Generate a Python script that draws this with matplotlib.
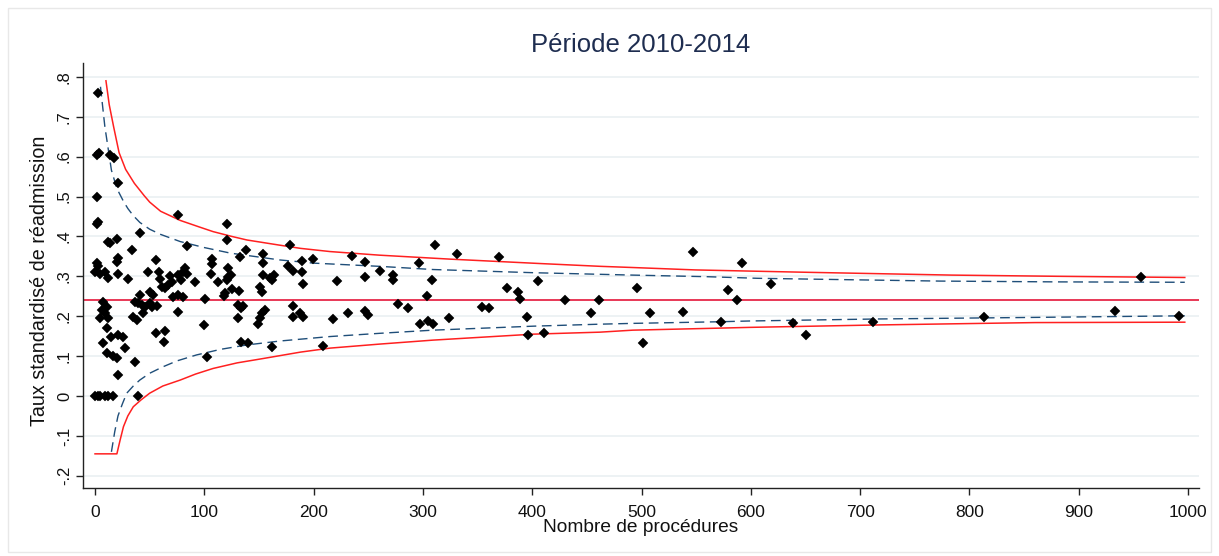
"""Funnel plot : taux standardisé de réadmission selon le nombre de procédures (2010-2014)."""
import matplotlib
matplotlib.use("Agg")
import matplotlib.pyplot as plt
from matplotlib.patches import Rectangle

plt.rcParams["font.family"] = ["Liberation Sans", "DejaVu Sans"]

TITLE = "Période 2010-2014"
XLABEL = "Nombre de procédures"
YLABEL = "Taux standardisé de réadmission"

MEAN_RATE = 0.24

# points : nombre de procédures / taux standardisé
PTS_N = [
    2.5, 2, 4, 13.7, 17.7, 20.7, 1.5, 3, 2, 11.6, 13.7, 19.8, 33.5, 41, 21, 20, 1.5, 2.5,
    0, 4.6, 9, 12, 21, 30.5, 48.8, 7.6, 10.7, 6, 9, 4.6, 12, 10.7, 7.6, 15, 21, 26, 27,
    10.7, 16.8, 20, 36.6, 20.7, 0, 3, 5, 9, 12, 16, 39,
    41, 36.6, 39.6, 42.6, 45.7, 44, 35, 38,
    75.6, 84.5, 55.8, 106.7, 106.7, 106, 58.8, 59.5, 68.6, 70, 76, 79, 80.8, 82.3, 84,
    91.5, 112.8, 61, 64, 67, 50.3, 53.4, 71, 76, 80.8, 100.6, 50.3, 52, 56.5, 76, 99.7,
    55.8, 64, 63, 102.8,
    120.5, 120.5, 138, 132.7, 154, 154, 122, 122, 120.5, 124.4, 154, 160, 164, 162, 119,
    118.3, 125, 131.7, 151, 152.5, 131, 134, 135.7, 131, 155.5, 152.5, 151, 149.4, 134,
    140, 162,
    178.4, 189, 199, 177, 181.4, 189, 190.6, 235, 247, 247, 221.7, 260.7, 181.4, 181,
    187.6, 190.6, 218, 231.7, 247, 250, 208.9,
    311, 331.5, 296.7, 273, 273, 308, 303.5, 277.5, 286.7, 297, 305, 309, 324, 354, 360,
    370, 376.7, 387, 389, 395.5, 396.4, 411, 405, 430, 454, 461, 496, 501, 508, 537.5,
    547, 572.7, 579.4, 587, 591.6, 618, 639, 650.5, 711.6, 813, 933, 957, 992,
]
PTS_RATE = [
    0.76, 0.605, 0.61, 0.604, 0.596, 0.533, 0.498, 0.437, 0.43, 0.387, 0.383, 0.393, 0.366,
    0.409, 0.347, 0.337, 0.333, 0.325,
    0.312, 0.307, 0.312, 0.295, 0.305, 0.293, 0.312, 0.236, 0.224, 0.215, 0.207, 0.195,
    0.195, 0.17, 0.132, 0.149, 0.153, 0.147, 0.12,
    0.107, 0.099, 0.095, 0.084, 0.053, 0, 0, 0, 0, 0, 0, 0,
    0.253, 0.236, 0.232, 0.228, 0.224, 0.207, 0.199, 0.19,
    0.454, 0.377, 0.341, 0.343, 0.33, 0.306, 0.312, 0.292, 0.301, 0.286, 0.303, 0.291,
    0.312, 0.322, 0.306,
    0.286, 0.286, 0.274, 0.27, 0.278, 0.261, 0.253, 0.249, 0.253, 0.249, 0.243, 0.232,
    0.222, 0.226, 0.211, 0.178,
    0.159, 0.164, 0.136, 0.097,
    0.431, 0.391, 0.366, 0.348, 0.356, 0.334, 0.32, 0.297, 0.291, 0.303, 0.303, 0.295,
    0.303, 0.29, 0.257,
    0.25, 0.267, 0.264, 0.272, 0.261, 0.228, 0.22, 0.226, 0.195, 0.216, 0.207, 0.195,
    0.18, 0.136,
    0.132, 0.122,
    0.378, 0.339, 0.343, 0.326, 0.314, 0.312, 0.281, 0.351, 0.336, 0.299, 0.287, 0.314,
    0.226, 0.199,
    0.207, 0.199, 0.193, 0.207, 0.213, 0.203, 0.126,
    0.378, 0.355, 0.333, 0.303, 0.291, 0.291, 0.251, 0.23, 0.22, 0.18, 0.189, 0.18, 0.196,
    0.224, 0.22,
    0.348, 0.271, 0.26, 0.243, 0.199, 0.153, 0.159, 0.287, 0.241, 0.207, 0.241, 0.271,
    0.132, 0.207, 0.211,
    0.36, 0.186, 0.266, 0.241, 0.333, 0.281, 0.184, 0.153, 0.186, 0.199, 0.214, 0.297, 0.201,
]

# limites
UP99_N = [10, 13, 17, 22, 28, 36, 45, 50, 60, 78, 95, 108, 125, 139, 169, 188, 215, 260,
          325, 407, 462, 492, 549, 600, 652, 784, 880, 997]
UP99_V = [0.79, 0.73, 0.675, 0.61, 0.568, 0.533, 0.502, 0.486, 0.463, 0.440, 0.424, 0.412,
          0.40, 0.391, 0.378, 0.370, 0.362, 0.353, 0.343, 0.332, 0.325, 0.322, 0.316,
          0.313, 0.310, 0.303, 0.300, 0.297]
LO99_N = [0, 20, 23, 26, 30, 35, 42, 50, 62, 78, 92, 108, 130, 154, 188, 215, 260, 309,
          401, 462, 492, 570, 599, 715, 860, 997]
LO99_V = [-0.145, -0.145, -0.11, -0.077, -0.05, -0.027, -0.01, 0.007, 0.025, 0.04, 0.055,
          0.069, 0.083, 0.094, 0.11, 0.12, 0.13, 0.14, 0.155, 0.16, 0.165, 0.17, 0.172,
          0.178, 0.184, 0.185]
UP95_N = [5, 9, 15, 20, 26, 30, 35, 41, 50, 60, 78, 100, 124, 169, 200, 260, 309, 401,
          462, 492, 560, 606, 700, 773, 880, 997]
UP95_V = [0.775, 0.675, 0.566, 0.52, 0.488, 0.47, 0.452, 0.435, 0.418, 0.405, 0.387,
          0.372, 0.358, 0.341, 0.333, 0.325, 0.317, 0.309, 0.305, 0.303, 0.299, 0.295,
          0.291, 0.288, 0.286, 0.285]
LO95_N = [15, 18, 21, 25, 29, 35, 41, 50, 62, 75, 93, 115, 139, 170, 215, 260, 309, 401,
          462, 492, 570, 599, 715, 860, 997]
LO95_V = [-0.14, -0.09, -0.05, -0.02, 0.007, 0.025, 0.04, 0.057, 0.073, 0.088, 0.103,
          0.117, 0.128, 0.138, 0.149, 0.157, 0.165, 0.175, 0.18, 0.182, 0.186, 0.188,
          0.193, 0.197, 0.201]

Y_TICKS = [-0.2, -0.1, 0, 0.1, 0.2, 0.3, 0.4, 0.5, 0.6, 0.7, 0.8]
Y_TICKLABELS = ["-.2", "-.1", "0", ".1", ".2", ".3", ".4", ".5", ".6", ".7", ".8"]
X_TICKS = [0, 100, 200, 300, 400, 500, 600, 700, 800, 900, 1000]

W, H = 1219, 556
fig = plt.figure(figsize=(W / 100, H / 100), dpi=100)
fig.patches.append(Rectangle((8 / W, 4 / H), 1 - 16 / W, 1 - 12 / H, transform=fig.transFigure,
                             fill=False, edgecolor="#e8e8e8", lw=1))
ax = fig.add_axes([83 / W, 68 / H, (1199 - 83) / W, (488 - 63) / H])

ax.set_xlim(-11, 1010)
ax.set_ylim(-0.2306, 0.8346)

ax.set_yticks(Y_TICKS)
ax.set_yticklabels(Y_TICKLABELS, rotation=90, va="center")
ax.set_xticks(X_TICKS)
ax.yaxis.grid(True, color="#eaf0f2", lw=1.2)
ax.set_axisbelow(True)
for s in ("top", "right"):
    ax.spines[s].set_visible(False)
for s in ("left", "bottom"):
    ax.spines[s].set_color("#222222")
    ax.spines[s].set_linewidth(1)
ax.tick_params(axis="both", direction="out", length=5, width=1, color="#222222",
               labelcolor="#111111")
ax.tick_params(axis="x", pad=7, labelsize=12.5)
ax.tick_params(axis="y", pad=3, labelsize=12)

ax.axhline(MEAN_RATE, color="#e4173a", lw=1.2, zorder=2)
ax.plot(UP99_N, UP99_V, color="#ff2020", lw=1.1, zorder=2)
ax.plot(LO99_N, LO99_V, color="#ff2020", lw=1.1, zorder=2)
ax.plot(UP95_N, UP95_V, color="#1f4e79", lw=1.0, ls=(0, (7, 4)), zorder=2)
ax.plot(LO95_N, LO95_V, color="#1f4e79", lw=1.0, ls=(0, (7, 4)), zorder=2)

ax.plot(PTS_N, PTS_RATE, ls="none", marker="D", ms=4.8, mfc="black", mec="black",
        mew=0.3, zorder=3)

fig.text(641 / W, 1 - 45 / H, TITLE, ha="center", va="center", fontsize=18.5,
         color="#1e2d50")
fig.text(641 / W, 1 - 527 / H, XLABEL, ha="center", va="center", fontsize=13.8,
         color="#111111")
fig.text(40 / W, 1 - 281 / H, YLABEL, ha="center", va="center", rotation=90,
         fontsize=14.2, color="#111111")

fig.savefig("out.png", dpi=100)
